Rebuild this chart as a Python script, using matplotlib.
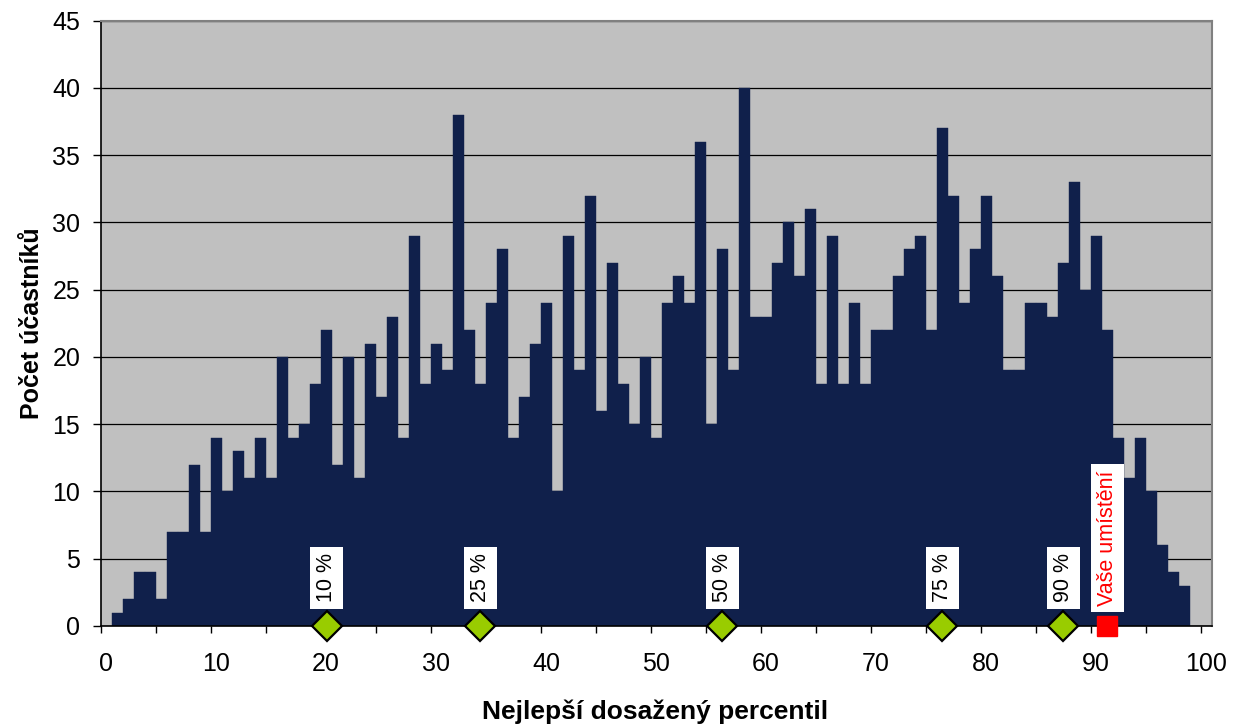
import matplotlib
matplotlib.use("Agg")
import matplotlib.pyplot as plt
import matplotlib.transforms as mtransforms

plt.rcParams['font.family'] = ['Liberation Sans', 'DejaVu Sans']

# pocet ucastniku pro kazdy percentil (sloupec i pokryva interval i..i+1)
percentil = list(range(1, 99))
pocet = [1, 2, 4, 4, 2, 7, 7, 12, 7, 14,
         10, 13, 11, 14, 11, 20, 14, 15, 18, 22,
         12, 20, 11, 21, 17, 23, 14, 29, 18, 21,
         19, 38, 22, 18, 24, 28, 14, 17, 21, 24,
         10, 29, 19, 32, 16, 27, 18, 15, 20, 14,
         24, 26, 24, 36, 15, 28, 19, 40, 23, 23,
         27, 30, 26, 31, 18, 29, 18, 24, 18, 22,
         22, 26, 28, 29, 22, 37, 32, 24, 28, 32,
         26, 19, 19, 24, 24, 23, 27, 33, 25, 29,
         22, 14, 11, 14, 10, 6, 4, 3]

kvantil_popisky = ["10 %", "25 %", "50 %", "75 %", "90 %"]
kvantil_pozice = [20.5, 34.5, 56.5, 76.5, 87.5]
vase_pozice = 91.5
vase_popisek = "Vaše umístění"

bar_col = '#10204B'
fs = 18

fig = plt.figure(figsize=(12.41, 7.25), dpi=100)
ax = fig.add_axes([0.0814, 0.1366, 0.8952, 0.8348])
ax.set_facecolor('#C0C0C0')

ax.bar(percentil, pocet, width=1.0, align='edge', color=bar_col,
       edgecolor=bar_col, linewidth=0.3, zorder=2)

ax.set_xlim(0, 101)
ax.set_ylim(0, 45)
ax.set_xticks(range(0, 101, 10))
ax.set_xticks(range(0, 101, 5), minor=True)
ax.set_yticks(range(0, 46, 5))
ax.yaxis.grid(True, color='black', linewidth=0.9, zorder=1)
ax.set_axisbelow(True)

ax.tick_params(axis='both', which='both', direction='out', labelsize=fs,
               color='black', width=1)
ax.tick_params(axis='x', which='both', length=5, pad=14)
ax.tick_params(axis='y', length=6, pad=9)

# popisky osy x jsou v originale trochu posunute doprava
posun = mtransforms.ScaledTranslation(0.05, 0, fig.dpi_scale_trans)
for lab in ax.get_xticklabels():
    lab.set_transform(lab.get_transform() + posun)

for s in ['left', 'bottom']:
    ax.spines[s].set_color('black')
    ax.spines[s].set_linewidth(1.2)
for s in ['top', 'right']:
    ax.spines[s].set_color('#808080')
    ax.spines[s].set_linewidth(1.5)

fig.text(0.5282, 6.5 / 725, 'Nejlepší dosažený percentil', fontsize=19,
         fontweight='bold', ha='center', va='baseline')
ax.set_ylabel('Počet účastníků', fontsize=18, fontweight='bold', labelpad=6)

# kvantily
ax.plot(kvantil_pozice, [0] * len(kvantil_pozice), linestyle='none', marker='D',
        markersize=15, markerfacecolor='#99CC00', markeredgecolor='black',
        markeredgewidth=1.6, clip_on=False, zorder=5)
for x, t in zip(kvantil_pozice, kvantil_popisky):
    ax.annotate(t, xy=(x, 0), xytext=(0, 17), textcoords='offset points',
                rotation=90, ha='center', va='bottom', fontsize=15.5,
                bbox=dict(boxstyle='square,pad=0.3', fc='white', ec='none'),
                zorder=6)

# vase umisteni
ax.plot([vase_pozice], [0], linestyle='none', marker='s', markersize=15,
        markerfacecolor='red', markeredgecolor='red', clip_on=False, zorder=5)
ax.annotate(vase_popisek, xy=(vase_pozice, 0), xytext=(0, 14.5),
            textcoords='offset points', rotation=90, ha='center', va='bottom',
            fontsize=15.5, color='red',
            bbox=dict(boxstyle='square,pad=0.3', fc='white', ec='none'),
            zorder=6)

fig.savefig('out.png', dpi=100)
